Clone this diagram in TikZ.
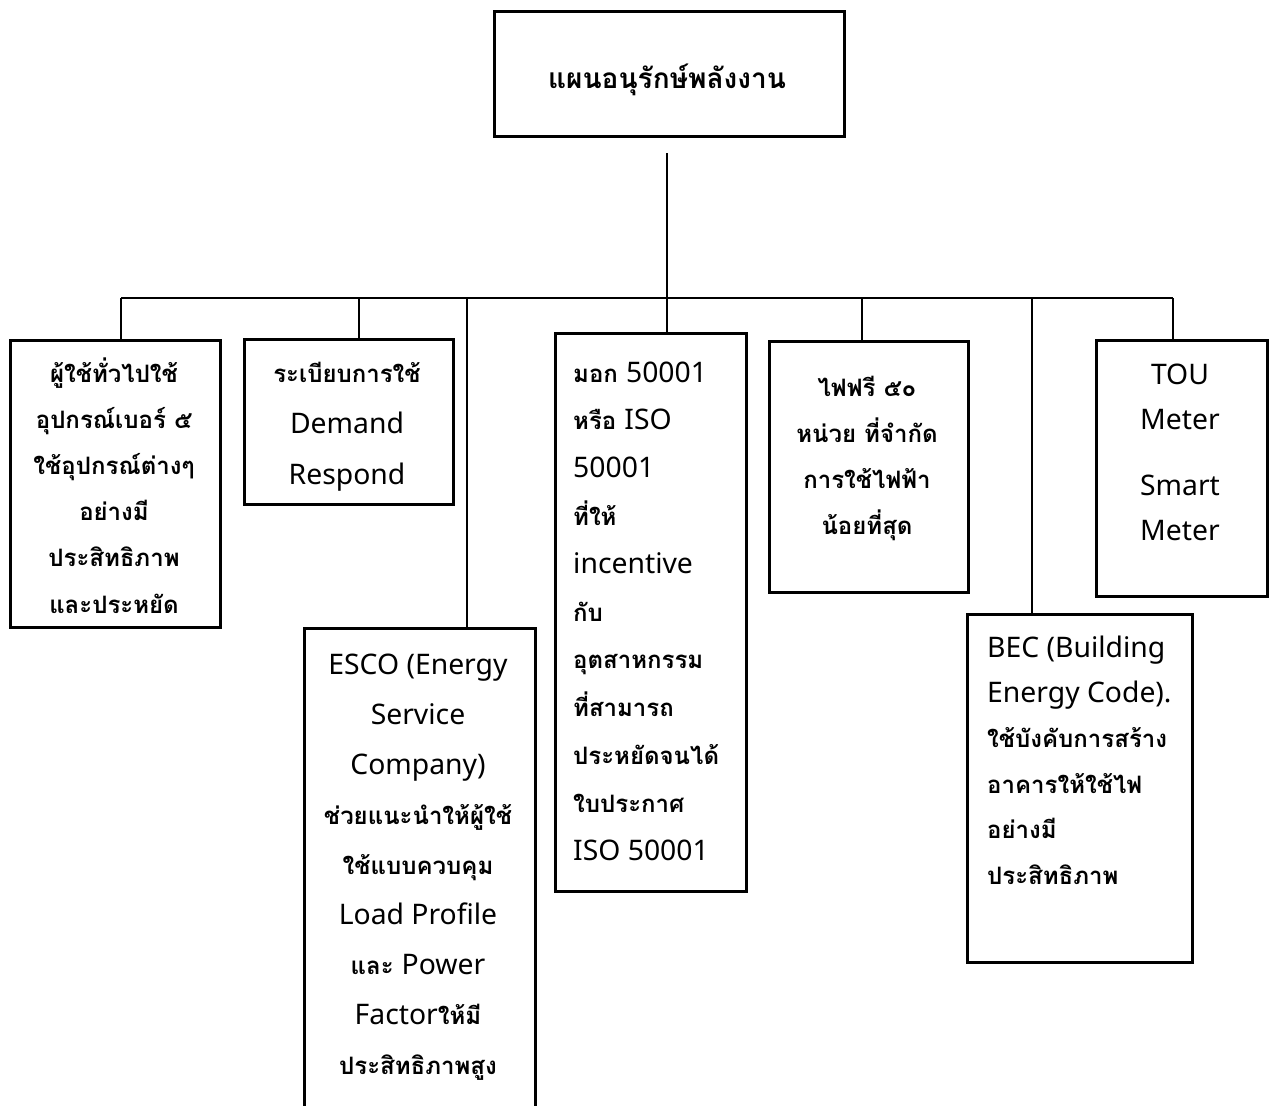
\documentclass[tikz,border=0pt]{standalone}
\usepackage{fontspec}
\newfontfamily\thaifont[Script=Thai]{Loma}
\newfontfamily\latfont[Scale=1.18]{Noto Sans}
\newcommand\lt[1]{{\latfont #1}}
\begin{document}
\begin{tikzpicture}[x=1bp,y=-1bp,
  box/.style={draw=black, line width=2.6bp, inner sep=0pt, anchor=north west},
  conn/.style={draw=black, line width=1.3bp},
  txt/.style={inner sep=0pt, anchor=base, align=center,
    font=\thaifont\bfseries\fontsize{24bp}{#1}\selectfont},
  txt/.default=46bp]
\fill[white] (0,0) rectangle (1273,1106);
\clip (0,0) rectangle (1273,1106);

% boxes
\node[box, minimum width=350bp, minimum height=125bp] (root) at (493,10) {};
\node[box, minimum width=210bp, minimum height=287bp] (b1) at (9,339) {};
\node[box, minimum width=209bp, minimum height=165bp] (b2) at (243,338) {};
\node[box, minimum width=231bp, minimum height=520bp] (b3) at (303,627) {};
\node[box, minimum width=191bp, minimum height=558bp] (b4) at (554,332) {};
\node[box, minimum width=199bp, minimum height=251bp] (b5) at (768,340) {};
\node[box, minimum width=225bp, minimum height=348bp] (b6) at (966,613) {};
\node[box, minimum width=171bp, minimum height=256bp] (b7) at (1095,339) {};

% connectors
\coordinate (stem) at (667,153);
\coordinate (busL) at (121,298);
\coordinate (busR) at (1173,298);
\coordinate (d1) at (121,298);
\coordinate (d2) at (359,298);
\coordinate (d3) at (467,298);
\coordinate (d5) at (862,298);
\coordinate (d6) at (1032,298);
\coordinate (d7) at (1173,298);
\draw[conn] (stem) -- (stem |- b4.north);
\draw[conn] (busL) -- (busR);
\draw[conn] (d1) -- (d1 |- b1.north);
\draw[conn] (d2) -- (d2 |- b2.north);
\draw[conn] (d3) -- (d3 |- b3.north);
\draw[conn] (d5) -- (d5 |- b5.north);
\draw[conn] (d6) -- (d6 |- b6.north);
\draw[conn] (d7) -- (d7 |- b7.north);

% texts (base anchor sits on the last line)
\node[txt, font=\thaifont\bfseries\fontsize{28bp}{34bp}\selectfont] (t0) at (667,88) {แผนอนุรักษ์พลังงาน};
\node[txt=46.2bp] (t1) at (114,613) {ผู้ใช้ทั่วไปใช้\\อุปกรณ์เบอร์ ๕\\ใช้อุปกรณ์ต่างๆ\\อย่างมี\\ประสิทธิภาพ\\และประหยัด};
\node[txt=51bp] (t2) at (347,484) {ระเบียบการใช้\\\lt{Demand}\\\lt{Respond}};
\node[txt=49.9bp] (t3) at (418,1074) {\lt{ESCO (Energy}\\\lt{Service}\\\lt{Company)}\\ช่วยแนะนำให้ผู้ใช้\\ใช้แบบควบคุม\\\lt{Load Profile}\\และ \lt{Power}\\\lt{Factor}ให้มี\\ประสิทธิภาพสูง};
\node[txt=47.8bp, anchor=base west, align=left] (t4) at (573,860) {มอก \lt{50001}\\หรือ \lt{ISO}\\\lt{50001}\\ที่ให้\\\lt{incentive}\\กับ\\อุตสาหกรรม\\ที่สามารถ\\ประหยัดจนได้\\ใบประกาศ\\\lt{ISO 50001}};
\node[txt=46bp] (t5) at (867,534) {ไฟฟรี ๕๐\\หน่วย ที่จำกัด\\การใช้ไฟฟ้า\\น้อยที่สุด};
\node[txt=45.4bp, anchor=base west, align=left] (t6) at (987,884) {\lt{BEC (Building}\\\lt{Energy Code).}\\ใช้บังคับการสร้าง\\อาคารให้ใช้ไฟ\\อย่างมี\\ประสิทธิภาพ};
\node[txt=45bp] (t7) at (1180,540) {\lt{TOU}\\\lt{Meter}\\[21bp]\lt{Smart}\\\lt{Meter}};
\end{tikzpicture}
\end{document}
